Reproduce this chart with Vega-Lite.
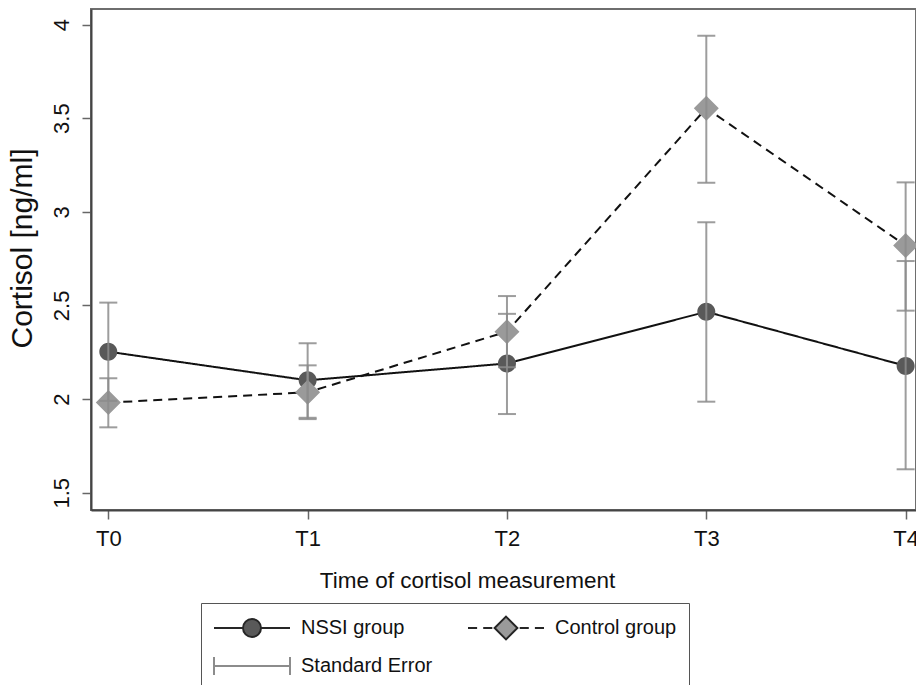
{
  "$schema": "https://vega.github.io/schema/vega-lite/v6.json",
  "width": 825,
  "height": 501,
  "autosize": {"type": "none"},
  "padding": {"left": 91, "top": 9, "right": 0, "bottom": 175},
  "background": "white",
  "config": {
    "font": "Liberation Sans",
    "view": {"stroke": "#6e6e6e", "strokeWidth": 2},
    "axis": {
      "grid": false,
      "domainColor": "#444444",
      "domainWidth": 2,
      "tickColor": "#666666",
      "tickWidth": 1.5,
      "tickSize": 9,
      "labelFont": "Liberation Sans",
      "labelFontSize": 22,
      "labelColor": "#111111",
      "titleFont": "Liberation Sans",
      "titleFontSize": 22,
      "titleFontWeight": "normal",
      "titleColor": "#111111"
    },
    "legend": {
      "labelFont": "Liberation Sans",
      "labelFontSize": 20,
      "labelColor": "#111111"
    }
  },
  "data": {
    "values": [
      {"t": 0, "group": "NSSI group", "mean": 2.253, "lo": 1.99, "hi": 2.515, "bar": "Standard Error"},
      {"t": 1, "group": "NSSI group", "mean": 2.1, "lo": 1.9, "hi": 2.298, "bar": "Standard Error"},
      {"t": 2, "group": "NSSI group", "mean": 2.19, "lo": 1.92, "hi": 2.455, "bar": "Standard Error"},
      {"t": 3, "group": "NSSI group", "mean": 2.466, "lo": 1.986, "hi": 2.944, "bar": "Standard Error"},
      {"t": 4, "group": "NSSI group", "mean": 2.177, "lo": 1.625, "hi": 2.737, "bar": "Standard Error"},
      {"t": 0, "group": "Control group", "mean": 1.981, "lo": 1.849, "hi": 2.111, "bar": "Standard Error"},
      {"t": 1, "group": "Control group", "mean": 2.036, "lo": 1.893, "hi": 2.18, "bar": "Standard Error"},
      {"t": 2, "group": "Control group", "mean": 2.36, "lo": 2.17, "hi": 2.55, "bar": "Standard Error"},
      {"t": 3, "group": "Control group", "mean": 3.553, "lo": 3.155, "hi": 3.94, "bar": "Standard Error"},
      {"t": 4, "group": "Control group", "mean": 2.82, "lo": 2.472, "hi": 3.157, "bar": "Standard Error"}
    ]
  },
  "layer": [
    {
      "mark": {"type": "line", "color": "#111111", "strokeWidth": 2},
      "encoding": {
        "x": {
          "field": "t", "type": "quantitative",
          "scale": {"domain": [-0.0868, 4.052], "nice": false, "zero": false},
          "axis": {
            "values": [0, 1, 2, 3, 4],
            "labelExpr": "'T' + datum.value",
            "labelFlush": false,
            "labelBaseline": "alphabetic",
            "labelPadding": 26,
            "title": "Time of cortisol measurement",
            "titleFontSize": 22.5,
            "titleX": 376,
            "titleY": 77,
            "titleAlign": "center",
            "titleBaseline": "alphabetic"
          }
        },
        "y": {
          "field": "mean", "type": "quantitative",
          "scale": {"domain": [1.4076, 4.0828], "nice": false, "zero": false},
          "axis": {
            "values": [1.5, 2, 2.5, 3, 3.5, 4],
            "format": "~g",
            "labelAngle": -90,
            "labelAlign": "center",
            "labelBaseline": "alphabetic",
            "labelPadding": 14,
            "title": "Cortisol [ng/ml]",
            "titleFontSize": 30,
            "titleAngle": -90,
            "titleX": -60,
            "titleY": 239,
            "titleAlign": "center",
            "titleBaseline": "alphabetic"
          }
        },
        "strokeDash": {
          "field": "group", "type": "nominal",
          "scale": {"domain": ["NSSI group", "Control group"], "range": [[1, 0], [9, 6]]},
          "legend": null
        }
      }
    },
    {
      "mark": {"type": "point", "filled": true, "opacity": 1},
      "encoding": {
        "x": {"field": "t", "type": "quantitative", "scale": {"domain": [-0.0868, 4.052], "nice": false, "zero": false}},
        "y": {"field": "mean", "type": "quantitative", "scale": {"domain": [1.4076, 4.0828], "nice": false, "zero": false}},
        "shape": {
          "field": "group", "type": "nominal",
          "scale": {
            "domain": ["NSSI group", "Control group", "Standard Error"],
            "range": [
              "M-1,0H-0.24M0.24,0H1M0.237,0A0.237,0.237,0,1,1,-0.237,0A0.237,0.237,0,1,1,0.237,0Z",
              "M-1,0H-0.76M-0.6,0H-0.36M0.36,0H0.6M0.76,0H1M0,-0.3L0.3,0L0,0.3L-0.3,0Z",
              "M-1,0H1M-1,-0.24V0.24M1,-0.24V0.24"
            ]
          }
        },
        "size": {
          "field": "group", "type": "nominal",
          "scale": {"domain": ["NSSI group", "Control group"], "range": [5776, 6944]},
          "legend": null
        },
        "color": {
          "field": "group", "type": "nominal",
          "scale": {"domain": ["NSSI group", "Control group", "Standard Error"], "range": ["#595959", "#9a9a9a", "#8c8c8c"]},
          "legend": {
            "title": null,
            "orient": "none",
            "direction": "horizontal",
            "legendX": 110,
            "legendY": 594,
            "columns": 2,
            "columnPadding": 34,
            "rowPadding": 12,
            "padding": 12,
            "strokeColor": "#555555",
            "symbolSize": 5776,
            "symbolStrokeWidth": 2,
            "clipHeight": 26,
            "labelOffset": 10
          }
        }
      }
    },
    {
      "mark": {"type": "rule", "strokeWidth": 2, "opacity": 0.85},
      "encoding": {
        "x": {"field": "t", "type": "quantitative", "scale": {"domain": [-0.0868, 4.052], "nice": false, "zero": false}},
        "y": {"field": "lo", "type": "quantitative", "scale": {"domain": [1.4076, 4.0828], "nice": false, "zero": false}},
        "y2": {"field": "hi"},
        "stroke": {
          "field": "bar", "type": "nominal",
          "scale": {
            "domain": ["NSSI group", "Control group", "Standard Error"],
            "range": ["#262626", "#262626", "#8c8c8c"]
          }
        }
      }
    },
    {
      "mark": {"type": "tick", "orient": "horizontal", "size": 18, "thickness": 2, "opacity": 0.85, "color": "#8c8c8c"},
      "encoding": {
        "x": {"field": "t", "type": "quantitative", "scale": {"domain": [-0.0868, 4.052], "nice": false, "zero": false}},
        "y": {"field": "lo", "type": "quantitative", "scale": {"domain": [1.4076, 4.0828], "nice": false, "zero": false}}
      }
    },
    {
      "mark": {"type": "tick", "orient": "horizontal", "size": 18, "thickness": 2, "opacity": 0.85, "color": "#8c8c8c"},
      "encoding": {
        "x": {"field": "t", "type": "quantitative", "scale": {"domain": [-0.0868, 4.052], "nice": false, "zero": false}},
        "y": {"field": "hi", "type": "quantitative", "scale": {"domain": [1.4076, 4.0828], "nice": false, "zero": false}}
      }
    }
  ]
}
